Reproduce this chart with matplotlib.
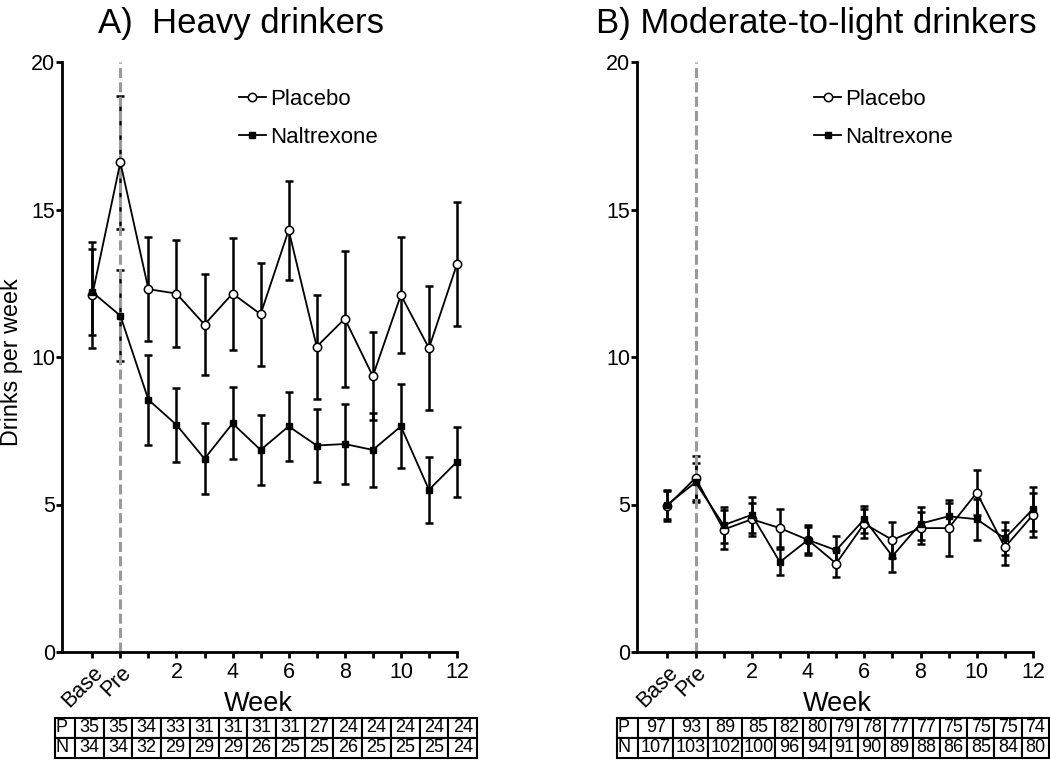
import numpy as np
import matplotlib
matplotlib.use("Agg")
from matplotlib import pyplot as plt

plt.rcParams['font.family'] = ['Liberation Sans', 'DejaVu Sans']

# x positions: Base, Pre, weeks 1..12
xlabels = ['Base', 'Pre'] + [str(k) if k % 2 == 0 else '' for k in range(1, 13)]

# A) heavy drinkers
heavy_plac = [12.1, 16.6, 12.3, 12.15, 11.1, 12.15, 11.45, 14.3, 10.35, 11.3, 9.35, 12.1, 10.3, 13.15]
heavy_plac_se = [1.8, 2.25, 1.76, 1.82, 1.7, 1.9, 1.74, 1.68, 1.76, 2.3, 1.5, 1.97, 2.1, 2.1]
heavy_nal = [12.2, 11.4, 8.55, 7.7, 6.55, 7.75, 6.85, 7.65, 7.0, 7.05, 6.85, 7.65, 5.5, 6.45]
heavy_nal_se = [1.45, 1.55, 1.52, 1.25, 1.2, 1.22, 1.18, 1.16, 1.23, 1.36, 1.25, 1.42, 1.12, 1.18]
heavy_P = [35, 35, 34, 33, 31, 31, 31, 31, 27, 24, 24, 24, 24, 24]
heavy_N = [34, 34, 32, 29, 29, 29, 26, 25, 25, 26, 25, 25, 25, 24]

# B) moderate-to-light drinkers
light_plac = [4.95, 5.9, 4.15, 4.5, 4.2, 3.8, 3.0, 4.35, 3.8, 4.2, 4.2, 5.4, 3.55, 4.65]
light_plac_se = [0.5, 0.75, 0.65, 0.56, 0.65, 0.5, 0.45, 0.5, 0.6, 0.55, 0.95, 0.76, 0.6, 0.75]
light_nal = [5.0, 5.75, 4.3, 4.65, 3.05, 3.8, 3.45, 4.5, 3.25, 4.35, 4.6, 4.5, 3.85, 4.85]
light_nal_se = [0.5, 0.65, 0.6, 0.61, 0.45, 0.45, 0.47, 0.45, 0.53, 0.55, 0.45, 0.7, 0.55, 0.75]
light_P = [97, 93, 89, 85, 82, 80, 79, 78, 77, 77, 75, 75, 75, 74]
light_N = [107, 103, 102, 100, 96, 94, 91, 90, 89, 88, 86, 85, 84, 80]

W, H = 1050, 762
fig = plt.figure(figsize=(10.5, 7.62), dpi=100)


def panel(left, right, plac, plac_se, nal, nal_se):
    ax = fig.add_axes([left / W, (H - 652) / H, (right - left) / W, 590 / H])
    x = np.arange(len(plac))
    ax.errorbar(x, plac, yerr=plac_se, fmt='none', ecolor='black', elinewidth=1.8,
                capsize=3, capthick=1.8, clip_on=False, zorder=2)
    ax.errorbar(x, nal, yerr=nal_se, fmt='none', ecolor='black', elinewidth=1.8,
                capsize=3, capthick=1.8, clip_on=False, zorder=2)
    ax.axvline(1, color='#9a9a9a', lw=2.2, dashes=(3.3, 1.4), zorder=2.5)
    l1, = ax.plot(x, plac, '-o', color='black', lw=1.3, ms=6, mfc='white', mec='black',
                  mew=1.1, clip_on=False, zorder=3, label='Placebo')
    l2, = ax.plot(x, nal, '-s', color='black', lw=1.3, ms=4.5, mfc='black', mec='black',
                  clip_on=False, zorder=3, label='Naltrexone')
    ax.set_xlim(-1.08, 13)
    ax.set_ylim(0, 20)
    ax.set_yticks([0, 5, 10, 15, 20])
    ax.set_xticks(x)
    ax.set_xticklabels(xlabels)
    for lab in ax.get_xticklabels()[:2]:
        lab.set_rotation(45)
        lab.set_ha('right')
        lab.set_rotation_mode('anchor')
    for s in ['top', 'right']:
        ax.spines[s].set_visible(False)
    for s in ['left', 'bottom']:
        ax.spines[s].set_linewidth(2.0)
    ax.tick_params(axis='both', length=4, width=2.0, labelsize=15.5, color='black')
    ax.tick_params(axis='y', pad=1)
    ax.tick_params(axis='x', pad=3)
    ax.legend(handles=[l1, l2], loc='upper left', bbox_to_anchor=(0.448, 0.955),
              frameon=False, fontsize=16, handlelength=1.2, handletextpad=0.2,
              labelspacing=0.77, borderpad=0, borderaxespad=0)
    return ax


def table(left, right, P, N, widths):
    tx = fig.add_axes([left / W, 4 / H, (right - left) / W, 40 / H])
    tx.axis('off')
    cells = [['P'] + [str(v) for v in P], ['N'] + [str(v) for v in N]]
    tot = sum(widths)
    tb = tx.table(cellText=cells, bbox=[0, 0, 1, 1], cellLoc='center',
                  colWidths=[w / tot for w in widths])
    tb.auto_set_font_size(False)
    tb.set_fontsize(13)
    for (r, c), cell in tb.get_celld().items():
        cell.set_linewidth(1.5)
        cell.PAD = 0.02
        if c == 0:
            cell.get_text().set_ha('left')
            cell._loc = 'left'


panel(62, 457, heavy_plac, heavy_plac_se, heavy_nal, heavy_nal_se)
panel(637, 1033, light_plac, light_plac_se, light_nal, light_nal_se)

table(55, 477, heavy_P, heavy_N, [20] + [28.7] * 14)
table(617, 1049, light_P, light_N, [21.5, 35, 35, 33.5, 33.5, 28] + [27.3] * 9)

fig.text(241 / W, 1 - 33 / H, 'A)  Heavy drinkers', fontsize=25, ha='center', va='baseline')
fig.text(816 / W, 1 - 33 / H, 'B) Moderate-to-light drinkers', fontsize=25, ha='center', va='baseline')
fig.text(258 / W, 1 - 711 / H, 'Week', fontsize=19.5, ha='center', va='baseline')
fig.text(837 / W, 1 - 711 / H, 'Week', fontsize=19.5, ha='center', va='baseline')
fig.text(12 / W, 1 - 362 / H, 'Drinks per week', fontsize=16.8, rotation=90, ha='center', va='center')

fig.savefig('out.png', dpi=100)
